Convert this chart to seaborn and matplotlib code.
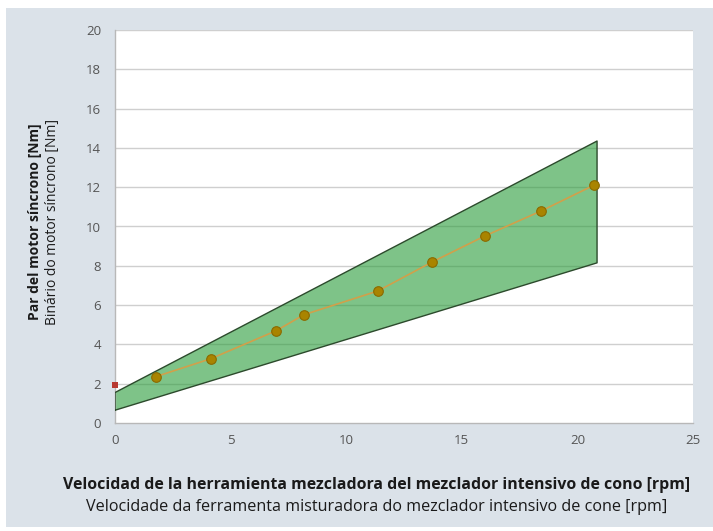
import matplotlib
matplotlib.use("Agg")
import matplotlib.pyplot as plt
from matplotlib.patches import Rectangle
import seaborn as sns
import pandas as pd

# Torque band limits (speed in rpm, torque in Nm)
band_speed = [0.0, 20.85]
band_lower = [0.65, 8.15]
band_upper = [1.55, 14.35]

# Measured operating points
speed_rpm = [1.77, 4.14, 6.98, 8.17, 11.37, 13.71, 16.0, 18.43, 20.73]
torque_nm = [2.36, 3.27, 4.70, 5.51, 6.72, 8.19, 9.52, 10.79, 12.11]

# Idle reference point
idle_speed = [0.0]
idle_torque = [1.95]

x_ticks = [0, 5, 10, 15, 20, 25]
y_ticks = [0, 2, 4, 6, 8, 10, 12, 14, 16, 18, 20]

xlabel_es = "Velocidad de la herramienta mezcladora del mezclador intensivo de cono [rpm]"
xlabel_pt = "Velocidade da ferramenta misturadora do mezclador intensivo de cone [rpm]"
ylabel_es = "Par del motor síncrono [Nm]"
ylabel_pt = "Binário do motor síncrono [Nm]"

sns.set_theme(style="white")
plt.rcParams["font.family"] = ["Open Sans", "DejaVu Sans"]

W, H = 713, 531
fig = plt.figure(figsize=(W / 100, H / 100), dpi=100)
fig.patch.set_facecolor("white")

# Light panel behind the chart
panel_color = "#dbe2e9"
fig.add_artist(Rectangle((6 / W, 4 / H), 1 - 6 / W, (527 - 8) / H,
                         transform=fig.transFigure, facecolor=panel_color,
                         edgecolor="none", zorder=-10))

ax = fig.add_axes([115 / W, 108 / H, 578 / W, 393 / H])
ax.set_facecolor("white")

for y in y_ticks[1:]:
    ax.axhline(y, color="#cfcfcf", lw=1.0, zorder=1)

ax.fill_between(band_speed, band_lower, band_upper, facecolor="#2f9e3f",
                alpha=0.62, edgecolor="none", zorder=2)
ax.plot([band_speed[0], band_speed[0], band_speed[1], band_speed[1], band_speed[0]],
        [band_lower[0], band_upper[0], band_upper[1], band_lower[1], band_lower[0]],
        color="#2c4a2c", lw=1.0, zorder=3)

df = pd.DataFrame({"speed": speed_rpm, "torque": torque_nm})
sns.lineplot(data=df, x="speed", y="torque", ax=ax, color="#d1a04a",
             lw=1.2, zorder=4, sort=False)
sns.scatterplot(data=df, x="speed", y="torque", ax=ax, color="#a98400",
                edgecolor="#8a6a00", linewidth=0.8, s=48, zorder=5)
sns.scatterplot(x=idle_speed, y=idle_torque, ax=ax, color="#b83a32",
                marker="s", s=14, linewidth=0, zorder=6, clip_on=False)

ax.set_xlim(0, 25)
ax.set_ylim(0, 20)
ax.set_xticks(x_ticks)
ax.set_yticks(y_ticks)
ax.set_xlabel("")
ax.set_ylabel("")
ax.tick_params(axis="both", colors="#8a8a8a", labelcolor="#555555",
               labelsize=9.5, length=3, width=0.8)
ax.tick_params(axis="x", pad=5)
ax.tick_params(axis="y", length=0, pad=10)
for side in ["top", "right"]:
    ax.spines[side].set_visible(False)
for side in ["left", "bottom"]:
    ax.spines[side].set_color("#b8b8b8")
    ax.spines[side].set_linewidth(1.0)

fig.text(377 / W, 1 - 485 / H, xlabel_es, ha="center", va="center",
         fontsize=11.4, fontweight="bold", color="#1a1a1a")
fig.text(377 / W, 1 - 507 / H, xlabel_pt, ha="center", va="center",
         fontsize=11.6, color="#1a1a1a")
fig.text(35 / W, 1 - 222 / H, ylabel_es, ha="center", va="center",
         rotation=90, fontsize=10, fontweight="bold", color="#1a1a1a")
fig.text(53 / W, 1 - 222 / H, ylabel_pt, ha="center", va="center",
         rotation=90, fontsize=10, color="#1a1a1a")

fig.savefig("out.png", dpi=100, facecolor=fig.get_facecolor())
